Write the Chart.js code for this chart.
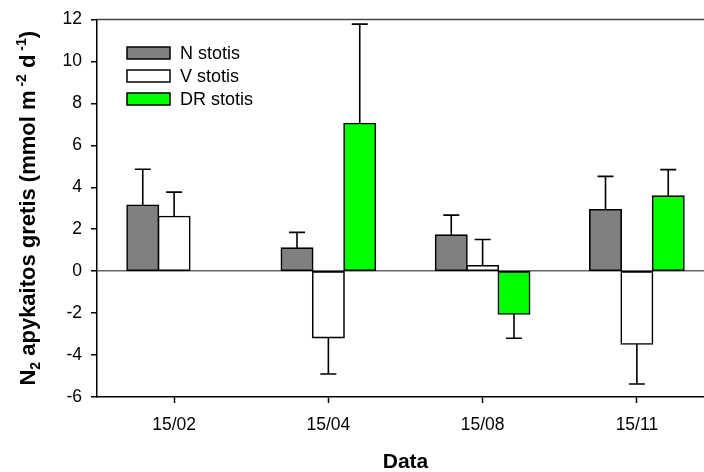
<!DOCTYPE html>
<html>
<head>
<meta charset="utf-8">
<script src="https://cdn.jsdelivr.net/npm/chart.js@4"></script>
<style>
  html, body { margin: 0; padding: 0; background: #fff; overflow: hidden; }
  #wrap { position: absolute; left: 0; top: 0; width: 716px; height: 472px; }
</style>
</head>
<body>
<div id="wrap"><canvas id="chart" width="716" height="472"></canvas></div>
<script>
// Data
const categories = ['15/02', '15/04', '15/08', '15/11'];
const seriesNames = ['N stotis', 'V stotis', 'DR stotis'];
const nValues  = [3.14, 1.10, 1.72, 2.93];
const vValues  = [2.61, -3.17, 0.26, -3.47];
const drValues = [null, 7.04, -2.04, 3.58];
// one-sided error (SD), drawn away from zero
const nErrors  = [1.72, 0.75, 0.95, 1.59];
const vErrors  = [1.16, 1.73, 1.25, 1.91];
const drErrors = [null, 4.74, 1.16, 1.26];
const yTicks = [-6, -4, -2, 0, 2, 4, 6, 8, 10, 12];

const FONT = '"Liberation Sans", Arial, sans-serif';

// error bars drawn on top of each bar
const errorBarPlugin = {
    id: 'errorBars',
    afterDatasetsDraw(chart) {
        const { ctx } = chart;
        const y = chart.scales.y;
        chart.data.datasets.forEach((ds, di) => {
            const meta = chart.getDatasetMeta(di);
            meta.data.forEach((bar, i) => {
                const v = ds.data[i];
                const e = ds.errors[i];
                if (v == null || e == null) return;
                const end = v >= 0 ? v + e : v - e;
                const y0 = y.getPixelForValue(v);
                const y1 = y.getPixelForValue(end);
                ctx.save();
                ctx.strokeStyle = '#000';
                ctx.lineWidth = 1.6;
                ctx.beginPath();
                ctx.moveTo(bar.x, y0);
                ctx.lineTo(bar.x, y1);
                ctx.moveTo(bar.x - 8, y1);
                ctx.lineTo(bar.x + 8, y1);
                ctx.stroke();
                ctx.restore();
            });
        });
    }
};

// frame top line, legend and y title with sub/superscripts
const decorPlugin = {
    id: 'decor',
    afterDraw(chart) {
        const { ctx, chartArea } = chart;
        ctx.save();
        ctx.strokeStyle = '#444';
        ctx.lineWidth = 1.5;
        ctx.beginPath();
        ctx.moveTo(chartArea.left, chartArea.top);
        ctx.lineTo(chartArea.right, chartArea.top);
        ctx.stroke();

        // legend
        ctx.font = '18px ' + FONT;
        ctx.textBaseline = 'middle';
        chart.data.datasets.forEach((ds, i) => {
            const cy = 53 + i * 23;
            ctx.fillStyle = ds.backgroundColor;
            ctx.fillRect(127, cy - 6, 43, 12);
            ctx.strokeStyle = '#000';
            ctx.lineWidth = 1.5;
            ctx.strokeRect(127, cy - 6, 43, 12);
            ctx.fillStyle = '#000';
            ctx.fillText(ds.label, 180, cy + 1);
        });

        // y axis title
        const parts = [
            ['N', 0], ['2', 1], [' apykaitos gretis (mmol m', 0], [' -2', -1],
            [' d', 0], [' -1', -1], [')', 0]
        ];
        const big = 'bold 22px ' + FONT, small = 'bold 14px ' + FONT;
        let total = 0;
        parts.forEach(p => { ctx.font = p[1] ? small : big; total += ctx.measureText(p[0]).width; });
        ctx.translate(35, (chartArea.top + chartArea.bottom) / 2);
        ctx.rotate(-Math.PI / 2);
        ctx.textBaseline = 'alphabetic';
        ctx.textAlign = 'left';
        let x = -total / 2;
        parts.forEach(p => {
            ctx.font = p[1] ? small : big;
            const dy = p[1] === 1 ? 5 : p[1] === -1 ? -9 : 0;
            ctx.fillText(p[0], x, dy);
            x += ctx.measureText(p[0]).width;
        });
        ctx.restore();
    }
};

const mkSet = (i, data, errors, color) => ({
    label: seriesNames[i],
    data: data,
    errors: errors,
    backgroundColor: color,
    borderColor: '#000',
    borderWidth: 1.6,
    borderSkipped: false,
    inflateAmount: 0.8,
    categoryPercentage: 0.61,
    barPercentage: 1.0
});

new Chart(document.getElementById('chart'), {
    type: 'bar',
    data: {
        labels: categories,
        datasets: [
            mkSet(0, nValues, nErrors, '#808080'),
            mkSet(1, vValues, vErrors, '#ffffff'),
            mkSet(2, drValues, drErrors, '#00ff00')
        ]
    },
    options: {
        responsive: false,
        animation: false,
        devicePixelRatio: 1,
        layout: { padding: { left: 0, top: 16, right: 2, bottom: 0 } },
        plugins: { legend: { display: false }, tooltip: { enabled: false } },
        scales: {
            x: {
                grid: { offset: false, drawOnChartArea: false, drawTicks: true, tickLength: 6, tickColor: '#000', tickWidth: 1.5 },
                border: { color: '#000', width: 1.5 },
                ticks: { color: '#000', font: { family: FONT, size: 17.5 }, padding: 12 },
                title: { display: true, text: 'Data', color: '#000', font: { family: FONT, size: 21, weight: 'bold' }, padding: { top: 16, bottom: -3 } },
                afterFit(s) { s.height = 75; }
            },
            y: {
                min: -6, max: 12,
                afterBuildTicks(s) { s.ticks = yTicks.map(v => ({ value: v })); },
                grid: {
                    color: c => c.tick && c.tick.value === 0 ? '#666' : 'rgba(0,0,0,0)',
                    lineWidth: 1.5,
                    tickLength: 6, tickColor: '#000', tickWidth: 1.5
                },
                border: { color: '#000', width: 1.5 },
                ticks: { color: '#000', font: { family: FONT, size: 17.5 }, padding: 9 },
                afterFit(s) { s.width = 97; }
            }
        }
    },
    plugins: [errorBarPlugin, decorPlugin]
});
</script>
</body>
</html>
